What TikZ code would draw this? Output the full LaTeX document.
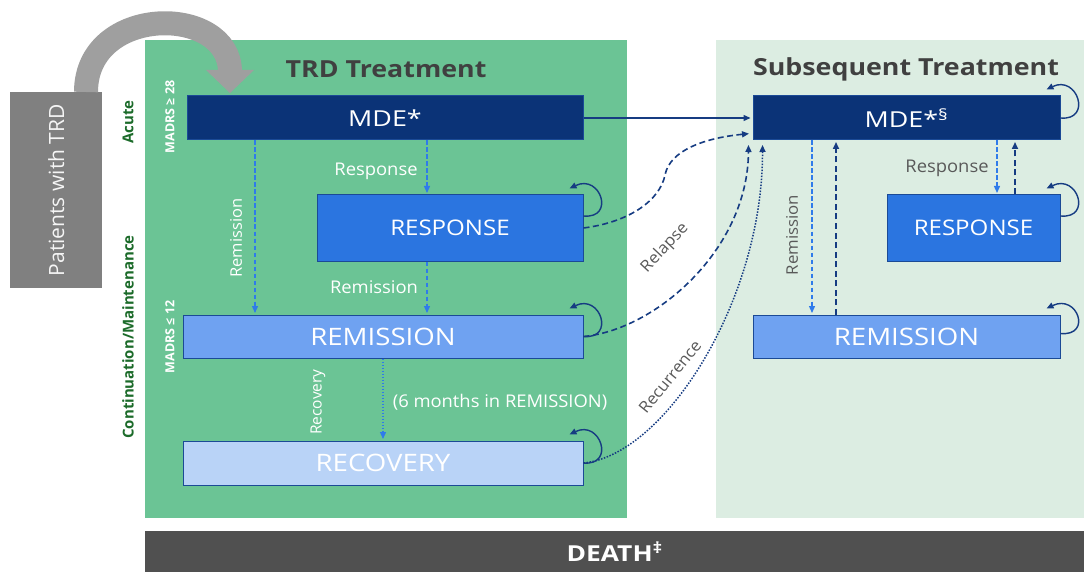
\documentclass[tikz,border=0pt]{standalone}
\usepackage{fontspec}
\setmainfont{Open Sans}
\usetikzlibrary{arrows.meta,calc}
\newcommand{\strf}[1]{\addfontfeatures{FakeStretch=#1}}
\definecolor{pangreen}{HTML}{6BC495}
\definecolor{panlight}{HTML}{DCEDE2}
\definecolor{navy}{HTML}{0B3377}
\definecolor{respblue}{HTML}{2B75E0}
\definecolor{remblue}{HTML}{6FA2F1}
\definecolor{recblue}{HTML}{B9D3F7}
\definecolor{bordc}{HTML}{1B4A96}
\definecolor{lightarr}{HTML}{2F7BEA}
\definecolor{navyarr}{HTML}{163C82}
\definecolor{labgray}{HTML}{595959}
\definecolor{labgreen}{HTML}{1C6B2A}
\definecolor{deathgray}{HTML}{505050}
\definecolor{titlegray}{HTML}{404040}
\tikzset{
  box/.style={draw=bordc, line width=1pt, inner sep=0pt, text=white},
  fmde/.style={font=\fontsize{22}{24}\selectfont\strf{1.22}},
  fresp/.style={font=\fontsize{21.5}{24}\selectfont\strf{1.12}},
  frem/.style={font=\fontsize{24}{26}\selectfont\strf{1.15}},
  tip/.style={-{Triangle[length=7pt,width=6pt]}},
  lightdash/.style={tip, draw=lightarr, line width=1.3pt, dash pattern=on 4.5pt off 2.5pt, shorten >=1.5pt},
  navydash/.style={tip, draw=navyarr, line width=1.6pt, dash pattern=on 6pt off 3.5pt, shorten >=1.5pt},
  lightdot/.style={tip, draw=lightarr, line width=1.3pt, dash pattern=on 1.5pt off 1.5pt, shorten >=1.5pt},
  selfloop/.style={tip, draw=navyarr, line width=1.4pt},
  wlab/.style={text=white, font=\fontsize{17.5}{19}\selectfont\strf{1.05}, inner sep=0pt},
  wvlab/.style={text=white, font=\fontsize{16}{18}\selectfont\strf{1.03}, inner sep=0pt, rotate=90},
  glab/.style={text=labgray, font=\fontsize{17.5}{19}\selectfont\strf{1.05}, inner sep=0pt},
  gslab/.style={text=labgray, font=\fontsize{16}{18}\selectfont\strf{1.05}, inner sep=0pt},
  phase/.style={text=labgreen, font=\fontsize{15}{17}\selectfont\bfseries, inner sep=0pt, rotate=90},
  madrs/.style={text=white, font=\fontsize{12.5}{14}\selectfont\bfseries, inner sep=0pt, rotate=90},
  ttl/.style={text=titlegray, font=\fontsize{23.5}{26}\selectfont\bfseries\strf{1.14}, inner sep=0pt}
}
\begin{document}
\begin{tikzpicture}[x=1pt,y=-1pt]
\useasboundingbox (0,0) rectangle (1084,572);
% panels
\fill[pangreen] (145,40) rectangle (627,518);
\fill[panlight] (716,40) rectangle (1084,518);
\node[fill=deathgray, minimum width=939pt, minimum height=41pt, inner sep=0pt, anchor=north west,
  text=white, font=\fontsize{22}{24}\selectfont\bfseries\strf{1.2}] (death) at (145,531) {DEATH\textsuperscript{‡}};
% patients
\node[fill=gray, minimum width=92pt, minimum height=196pt, inner sep=0pt, anchor=north west] (pat) at (10,92) {};
\node[rotate=90, text=white!92!gray, font=\fontsize{21}{23}\selectfont, inner sep=0pt] (patlab) at (pat.center) {Patients with TRD};
% big gray arrow
\coordinate (gstart) at (86,0 |- pat.north);
\draw[line width=24pt, color=gray!75] (gstart) .. controls (86,4) and (230,4) .. (230,72);
\fill[gray!75] (206,70) -- (254,70) -- (230,93) -- cycle;
% titles
\node[ttl] (t1) at (386,69) {TRD Treatment};
\node[ttl] (t2) at (906,69) {Subsequent Treatment};
% phase labels
\node[phase] (acute) at (128,122) {Acute};
\node[phase] (cont) at (128,337) {Continuation/Maintenance};
\node[madrs] (m28) at (170,117) {MADRS ≥ 28};
\node[madrs] (m12) at (170,337) {MADRS ≤ 12};
% boxes
\node[box, fmde, fill=navy, minimum width=396pt, minimum height=44pt] (mdeL) at (385,118) {MDE*};
\node[box, fresp, fill=respblue, minimum width=266pt, minimum height=66pt] (respL) at (450,228) {RESPONSE};
\node[box, frem, fill=remblue, minimum width=400pt, minimum height=43pt] (remL) at (383,336.5) {REMISSION};
\node[box, frem, fill=recblue, minimum width=400pt, minimum height=44pt] (recL) at (383,463) {RECOVERY};
\node[box, fmde, fill=navy, minimum width=307pt, minimum height=44pt] (mdeR) at (906.5,118) {MDE*\textsuperscript{§}};
\node[box, fresp, fill=respblue, minimum width=173pt, minimum height=66pt] (respR) at (973.5,228) {RESPONSE};
\node[box, frem, fill=remblue, minimum width=307pt, minimum height=43pt] (remR) at (906.5,336.5) {REMISSION};
% left vertical arrows
\draw[lightdash] (255,0 |- mdeL.south) -- (255,0 |- remL.north);
\draw[lightdash] (427,0 |- mdeL.south) -- (427,0 |- respL.north);
\draw[lightdash] (427,0 |- respL.south) -- (427,0 |- remL.north);
\draw[lightdot] (383,0 |- remL.south) -- (383,0 |- recL.north);
\node[wvlab] (lremv) at (236,238) {Remission};
\node[wlab] (lresp) at (376,171) {Response};
\node[wlab] (lrem) at (374,287) {Remission};
\node[wvlab, font=\fontsize{15.5}{17}\selectfont] (lrec) at (318,402) {Recovery};
\node[wlab] (l6m) at (500,402) {(6 months in REMISSION)};
% right vertical arrows
\draw[lightdash] (812,0 |- mdeR.south) -- (812,0 |- remR.north);
\draw[navydash] (836,0 |- remR.north) -- (836,0 |- mdeR.south);
\draw[lightdash] (997,0 |- mdeR.south) -- (997,0 |- respR.north);
\draw[navydash] (1015,0 |- respR.north) -- (1015,0 |- mdeR.south);
\node[gslab, rotate=90] (rremv) at (792,235) {Remission};
\node[glab] (rresp) at (947,168) {Response};
% cross arrows
\draw[tip, draw=navyarr, line width=1.3pt, shorten >=2pt] (mdeL.east) -- (mdeR.west);
\draw[navydash] (respL.east) .. controls (630,222) and (660,200) .. (665,175)
   .. controls (670,150) and (705,138) .. ($(mdeR.south west)+(-2,-7)$);
\draw[navydash] (remL.east) .. controls (655,330) and (748,250) .. ($(mdeR.south west)+(-4,3)$);
\draw[tip, draw=navyarr, line width=1.5pt, dash pattern=on 1.5pt off 1.5pt, shorten >=1.5pt]
   (recL.east) .. controls (665,455) and (763,300) .. ($(mdeR.south west)+(10,3)$);
\node[gslab, rotate=47] (relapse) at (665,248) {Relapse};
\node[gslab, rotate=51] (recur) at (670,377) {Recurrence};
% self loops
\draw[selfloop] ($(respL.east)+(0,-12)$) .. controls +(32,3) and +(31,-15) .. ($(respL.north east)+(-14,-6)$);
\draw[selfloop] (remL.east) .. controls +(32,3) and +(31,-15) .. ($(remL.north east)+(-14,-6)$);
\draw[selfloop] (recL.east) .. controls +(32,3) and +(31,-15) .. ($(recL.north east)+(-14,-6)$);
\draw[selfloop] (mdeR.east) .. controls +(32,3) and +(31,-15) .. ($(mdeR.north east)+(-14,-6)$);
\draw[selfloop] ($(respR.east)+(0,-12)$) .. controls +(32,3) and +(31,-15) .. ($(respR.north east)+(-14,-6)$);
\draw[selfloop] ($(remR.east)+(0,-3)$) .. controls +(32,3) and +(31,-15) .. ($(remR.north east)+(-14,-6)$);
\end{tikzpicture}
\end{document}
